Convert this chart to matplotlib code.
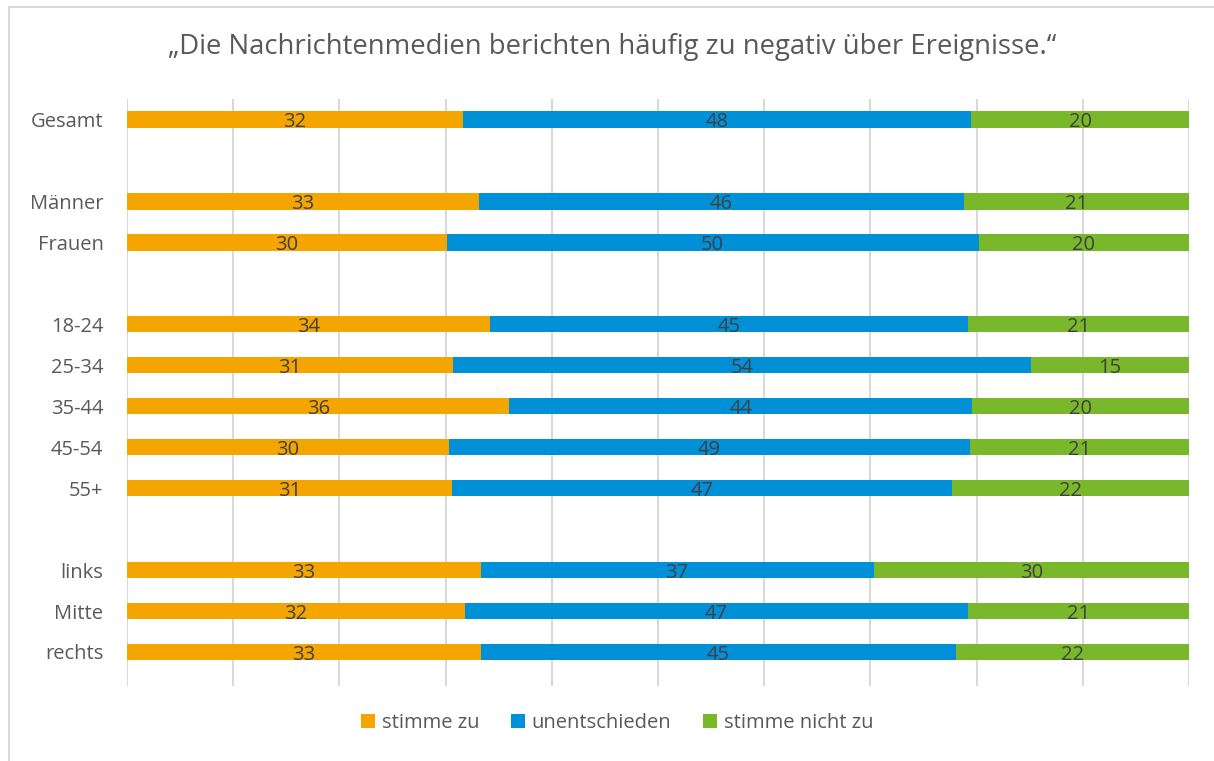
import matplotlib
matplotlib.use("Agg")
import matplotlib.pyplot as plt
from matplotlib.lines import Line2D
from matplotlib.patches import Patch

plt.rcParams['font.family'] = ['Open Sans', 'DejaVu Sans']

title = "„Die Nachrichtenmedien berichten häufig zu negativ über Ereignisse.“"
categories = ["Gesamt", "", "Männer", "Frauen", "", "18-24", "25-34", "35-44",
              "45-54", "55+", "", "links", "Mitte", "rechts"]
stimme_zu =      [31.6, None, 33.1, 30.1, None, 34.2, 30.7, 36.0, 30.3, 30.6, None, 33.3, 31.8, 33.3]
unentschieden =  [47.9, None, 45.7, 50.1, None, 45.0, 54.4, 43.6, 49.1, 47.1, None, 37.0, 47.4, 44.8]
nicht_zu =       [20.5, None, 21.2, 19.8, None, 20.8, 14.9, 20.4, 20.6, 22.3, None, 29.7, 20.8, 21.9]
series_names = ["stimme zu", "unentschieden", "stimme nicht zu"]
colors = ["#F5A500", "#0090D8", "#78B82A"]

W, H = 1214, 761
fig = plt.figure(figsize=(W/100, H/100), dpi=100)
# axes in pixel coordinates
x0, x1 = 127, 1189
y_top, y_bot = 99, 686
ax = fig.add_axes([x0/W, 1 - y_bot/H, (x1-x0)/W, (y_bot-y_top)/H])

slot = (652 - 120) / 13.0
ylim_bottom = (y_bot - 120) / slot
ax.set_ylim(ylim_bottom, -0.5)
ax.set_xlim(0, 100)

for i, cat in enumerate(categories):
    if stimme_zu[i] is None:
        continue
    left = 0
    for vals, col in zip([stimme_zu, unentschieden, nicht_zu], colors):
        v = vals[i]
        ax.barh(i, v, left=left, height=0.4, color=col, edgecolor='none', zorder=3)
        ax.text(left + v/2, i + 0.07, f"{round(v):d}", ha='center', va='center',
                fontsize=14.5, color='#404040', zorder=4)
        left += v

ax.set_yticks(range(len(categories)))
ax.set_yticklabels(categories, fontsize=14.5, color='#595959')
ax.tick_params(axis='y', length=0, pad=17)
ax.set_xticks(range(0, 101, 10))
ax.tick_params(axis='x', length=0, labelbottom=False)
ax.grid(axis='x', color='#D9D9D9', linewidth=1.5, zorder=0)
for s in ax.spines.values():
    s.set_visible(False)

fig.text(612/W, 1 - 47/H, title, ha='center', va='center', fontsize=19.8, color='#595959')

handles = [Patch(facecolor=c, edgecolor='none') for c in colors]
fig.legend(handles, series_names, loc='center', bbox_to_anchor=(617/W, 1 - 723/H),
           ncol=3, frameon=False, fontsize=14.5, labelcolor='#595959',
           handlelength=0.7, handleheight=0.7, handletextpad=0.35, columnspacing=1.55)

# light border on left and top
fig.add_artist(Line2D([8.5/W, 8.5/W, 1.0], [0.0, 1 - 7/H, 1 - 7/H],
                      transform=fig.transFigure, color='#D9D9D9', linewidth=1.5))

fig.savefig("out.png", dpi=100, facecolor='white')
